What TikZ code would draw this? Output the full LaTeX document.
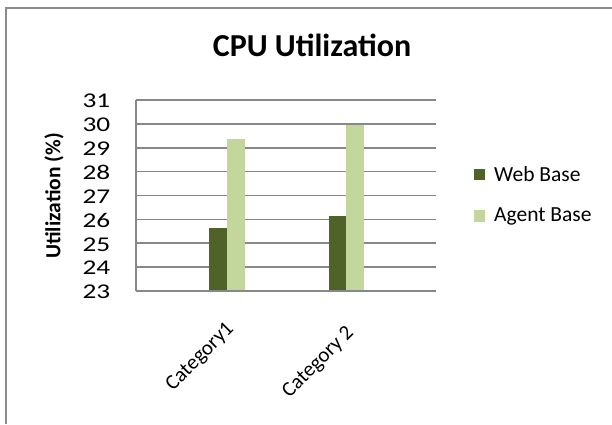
\documentclass[tikz,border=0pt]{standalone}
\usepackage{fontspec}
\setmainfont{Carlito}
\definecolor{darkbar}{HTML}{4F6228}
\definecolor{lightbar}{HTML}{C3D69B}
\definecolor{gridgray}{HTML}{878787}
\definecolor{framegray}{HTML}{8C8C8C}
\tikzset{
  gridline/.style={draw=gridgray, line width=1.6pt},
  webbar/.style={fill=darkbar},
  agentbar/.style={fill=lightbar},
  ticklabel/.style={anchor=east, inner sep=0pt, xscale=1.3, font=\fontsize{21}{21}\selectfont},
  catlabel/.style={anchor=east, inner sep=0pt, rotate=45, font=\fontsize{21}{21}\selectfont},
  legendtext/.style={anchor=west, inner sep=0pt, font=\fontsize{21.5}{21.5}\selectfont},
}
\begin{document}
\begin{tikzpicture}[x=1pt, y=-1pt]
\useasboundingbox (0,0) rectangle (612,424);
\fill[white] (0,0) rectangle (612,424);
% outer frame
\draw[framegray, line width=2pt] (6,424) -- (6,8) -- (612,8);
% title
\node[anchor=base, inner sep=0pt, font=\bfseries\fontsize{32}{32}\selectfont] (title) at (312,56) {CPU Utilization};
% gridlines and ticks
\foreach \v/\i in {23/0,24/1,25/2,26/3,27/4,28/5,29/6,30/7,31/8} {
  \pgfmathsetmacro{\yy}{291-\i*23.875}
  \draw[gridline] (136,\yy) -- (436,\yy);
  \node[ticklabel] (t\v) at (110.5,\yy+1) {\v};
}
\draw[gridline] (136,100) -- (136,291);
% bars
\pgfmathsetmacro{\ya}{291-(25.62-23)*23.875}
\pgfmathsetmacro{\yb}{291-(29.37-23)*23.875}
\pgfmathsetmacro{\yc}{291-(26.13-23)*23.875}
\pgfmathsetmacro{\yd}{291-(29.97-23)*23.875}
\fill[webbar] (209,290.2) rectangle (226.7,\ya);
\fill[agentbar] (226.7,290.2) rectangle (244.7,\yb);
\fill[webbar] (328.7,290.2) rectangle (346.3,\yc);
\fill[agentbar] (346.3,290.2) rectangle (364,\yd);
% axis title
\node[rotate=90, inner sep=0pt, font=\bfseries\fontsize{21.5}{21.5}\selectfont] (ylab) at (54,196) {Utilization (\%)};
% category labels
\node[catlabel] (c1) at (231,326) {Category1};
\node[catlabel] (c2) at (351,330) {Category 2};
% legend
\fill[webbar] (474,169) rectangle (485,180);
\fill[agentbar] (474,210) rectangle (485,222);
\node[legendtext] (l1) at (494,174.5) {Web Base};
\node[legendtext] (l2) at (494,216.5) {Agent Base};
\end{tikzpicture}
\end{document}
